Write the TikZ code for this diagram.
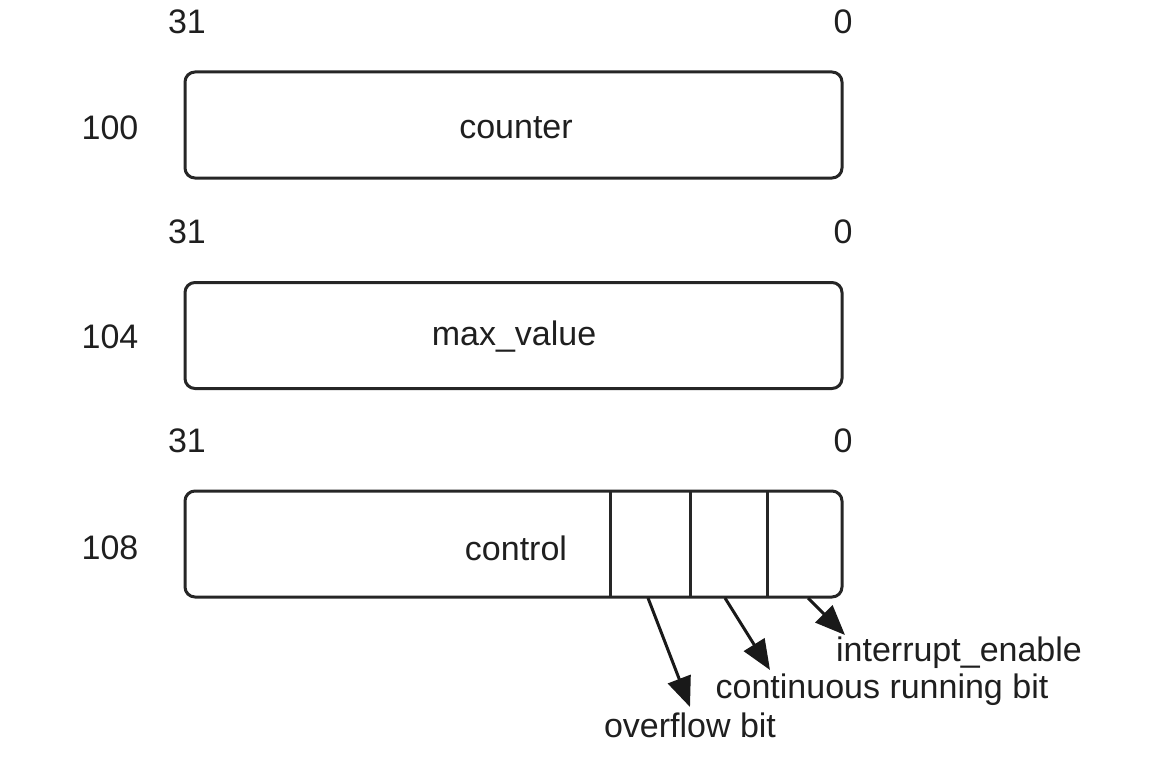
\documentclass[tikz,border=0pt]{standalone}
\usepackage{fontspec}
\setmainfont{Liberation Sans}
\usetikzlibrary{arrows.meta}
\begin{document}
\begin{tikzpicture}[x=1pt,y=-1pt,
  txt/.style={font=\fontsize{34}{40}\selectfont, text=black!88, inner sep=0pt, anchor=center},
  regbox/.style={draw=black!85, line width=3pt, rounded corners=10pt, minimum width=657pt, minimum height=106pt, inner sep=0pt},
  fieldline/.style={draw=black!85, line width=3pt},
  ptr/.style={draw=black!90, line width=3pt, -{Triangle[length=30pt,width=24pt]}}]
\useasboundingbox (0,0) rectangle (1157,776);
% register 100
\node[regbox] (r0) at (513.5,125) {};
\node[txt] (r0t) at (516,128) {counter};
\node[txt] (r0h) at (187,22) {31};
\node[txt] (r0l) at (843,22) {0};
\node[txt] (r0a) at (110,128) {100};
% register 104
\node[regbox] (r1) at (513.5,335.5) {};
\node[txt] (r1t) at (514,337) {max\_value};
\node[txt] (r1h) at (187,232) {31};
\node[txt] (r1l) at (843,232) {0};
\node[txt] (r1a) at (110,337) {104};
% register 108
\node[regbox] (r2) at (513.5,544) {};
\node[txt] (r2t) at (516,548) {control};
\node[txt] (r2h) at (187,441) {31};
\node[txt] (r2l) at (843,441) {0};
\node[txt] (r2a) at (110,548) {108};
% field dividers
\coordinate (d1t) at (610,491); \coordinate (d1b) at (610,597);
\coordinate (d2t) at (690,491); \coordinate (d2b) at (690,597);
\coordinate (d3t) at (767,491); \coordinate (d3b) at (767,597);
\draw[fieldline] (d1t) -- (d1b);
\draw[fieldline] (d2t) -- (d2b);
\draw[fieldline] (d3t) -- (d3b);
% field pointers
\coordinate (f1) at (648,598);
\coordinate (f2) at (725,598);
\coordinate (f3) at (808,598);
\coordinate (e1) at (690,707);
\coordinate (e2) at (770,670);
\coordinate (e3) at (845,635);
\node[txt] (l3) at (959,653) {interrupt\_enable};
\node[txt] (l2) at (882,690) {continuous running bit};
\node[txt] (l1) at (690,725) {overflow bit};
\draw[ptr] (f1) -- (e1);
\draw[ptr] (f2) -- (e2);
\draw[ptr] (f3) -- (e3);
\end{tikzpicture}
\end{document}
